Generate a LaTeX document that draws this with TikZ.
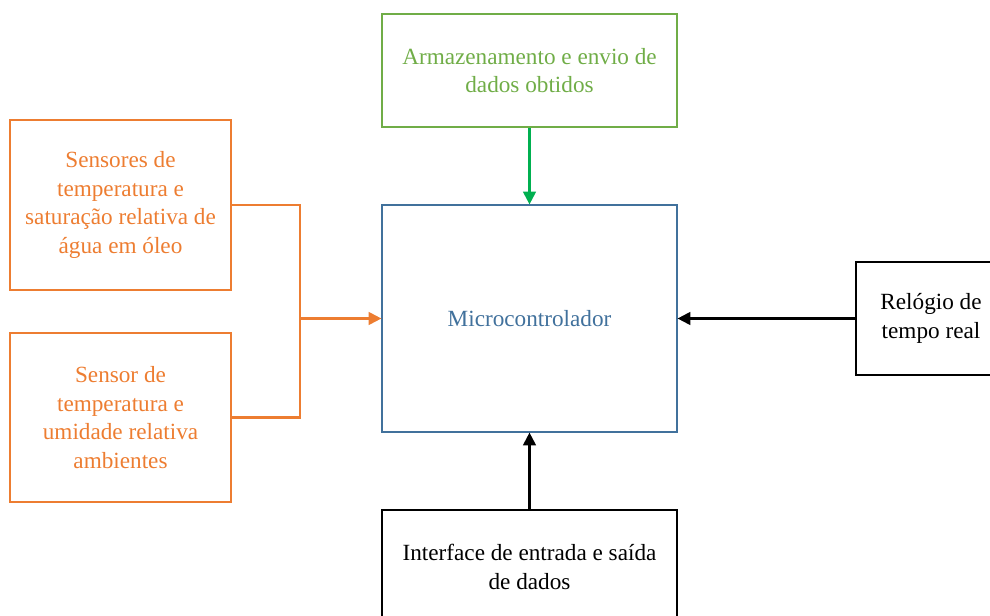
\documentclass[tikz,border=0pt]{standalone}
\usepackage{fontspec}
\setmainfont{Liberation Serif}
\usetikzlibrary{arrows.meta}
\definecolor{orng}{HTML}{ED7D31}
\definecolor{grn}{HTML}{70AD47}
\definecolor{grnarrow}{HTML}{00B050}
\definecolor{blu}{HTML}{41719C}
\begin{document}
\begin{tikzpicture}[x=0.75pt,y=-0.75pt,
  box/.style={draw,line width=0.9pt,rectangle,align=center,inner sep=0pt,
    font=\fontsize{17.4}{21.4}\selectfont},
  conn/.style={line width=1.6pt},
  tip/.style={-{Triangle[length=9.5pt,width=9.5pt]}}]
\useasboundingbox (0,0) rectangle (990,616);
\clip (0,0) rectangle (990,616);
\node[box,draw=grn,text=grn,minimum width=295*0.75pt,minimum height=113*0.75pt] (store) at (529.5,70.5) {Armazenamento e envio de\\dados obtidos};
\node[box,draw=blu,text=blu,minimum width=295*0.75pt,minimum height=227*0.75pt] (mcu) at (529.5,318.5) {Microcontrolador};
\node[box,draw=orng,text=orng,minimum width=221*0.75pt,minimum height=170*0.75pt] (s1) at (120.5,205) {Sensores de\\temperatura e\\saturação relativa de\\água em óleo};
\node[box,draw=orng,text=orng,minimum width=221*0.75pt,minimum height=169*0.75pt] (s2) at (120.5,417.5) {Sensor de\\temperatura e\\umidade relativa\\ambientes};
\node[box,draw=black,minimum width=150*0.75pt,minimum height=113*0.75pt] (rtc) at (931,318.5) {Relógio de\\tempo real};
\node[box,draw=black,minimum width=295*0.75pt,minimum height=114*0.75pt] (io) at (529.5,567) {Interface de entrada e saída\\de dados};
\coordinate (j) at (300,318.5);
\draw[conn,draw=orng] (s1.east) -| (j);
\draw[conn,draw=orng] (s2.east) -| (j);
\draw[conn,draw=orng,fill=orng,tip] (j) -- (mcu.west);
\draw[conn,draw=grnarrow,fill=grnarrow,tip] (store.south) -- (mcu.north);
\draw[conn,draw=black,fill=black,tip] (rtc.west) -- (mcu.east);
\draw[conn,draw=black,fill=black,tip] (io.north) -- (mcu.south);
\end{tikzpicture}
\end{document}
